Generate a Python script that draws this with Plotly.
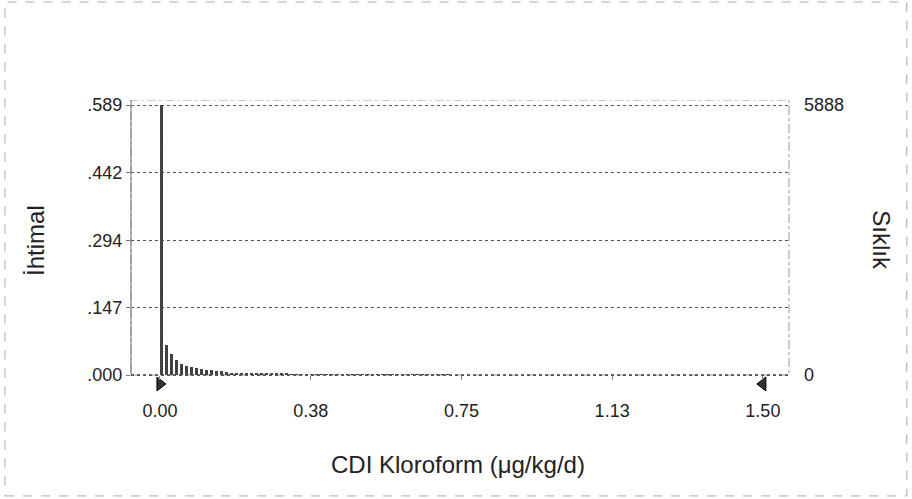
import plotly.graph_objects as go

# Simulation results: 10,000 trials, CDI of chloroform (µg/kg/d)
trials = 10000
bin_width = 0.0125
first_center = 0.003
freq_counts = [5888, 650, 460, 320, 240, 190, 170, 150, 140, 100, 100, 80, 80, 60,
               50, 45, 40, 40, 35, 35, 30, 30, 25, 30, 30, 25, 20, 20, 15, 15, 12,
               12, 10, 10, 10, 8, 8, 8, 6, 6, 6, 5, 5, 5, 4, 4, 4, 3, 3, 3, 2, 2,
               2, 2, 1, 1, 1, 1]

x_tick_vals = [0.0, 0.375, 0.75, 1.125, 1.5]
x_tick_text = ["0.00", "0.38", "0.75", "1.13", "1.50"]
prob_tick_vals = [0.0, 0.147, 0.294, 0.442, 0.589]
prob_tick_text = [".000", ".147", ".294", ".442", ".589"]
freq_tick_vals = [0, 5888]
freq_tick_text = ["0", "5888"]

certainty_range = [0.0, 1.5]

x_centers = [first_center + i * bin_width for i in range(len(freq_counts))]
probs = [c / trials for c in freq_counts]

font_family = "Liberation Sans, Arial, sans-serif"
x_range = [-0.072, 1.565]
prob_top = 0.6
prob_range = [-0.0371, prob_top]          # a strip below zero holds the grabbers
base_frac = -prob_range[0] / (prob_range[1] - prob_range[0])

fig = go.Figure()

fig.add_trace(go.Bar(
    x=x_centers, y=probs, width=bin_width * 0.6,
    marker=dict(color="#2a2a2a", line=dict(width=0),
                pattern=dict(shape="x", fgcolor="#000", bgcolor="#555", size=2, solidity=0.6)),
    showlegend=False, hoverinfo="x+y",
))

# frequency axis carries the same scale as probability
fig.add_trace(go.Scatter(
    x=[x_centers[0]], y=[freq_counts[0]], yaxis="y2", mode="markers",
    marker=dict(size=1, color="rgba(0,0,0,0)"), showlegend=False, hoverinfo="skip",
))

# certainty grabbers below the baseline
fig.add_trace(go.Scatter(
    x=certainty_range, y=[-0.0196, -0.0196], mode="markers",
    marker=dict(symbol=["triangle-right", "triangle-left"], size=12, color="#333",
                line=dict(color="#000", width=1)),
    showlegend=False, hoverinfo="x",
))

fig.update_layout(
    width=912, height=499,
    margin=dict(l=131, r=123, t=100, b=107),
    paper_bgcolor="white", plot_bgcolor="white",
    font=dict(family=font_family, size=18, color="#222"),
    bargap=0,
    xaxis=dict(
        range=x_range, tickvals=x_tick_vals, ticktext=x_tick_text,
        anchor="free", position=base_frac,
        showgrid=False, zeroline=False, showline=False,
        ticks="outside", ticklen=4, tickcolor="#888",
        tickfont=dict(size=18, color="#222"), ticklabelstandoff=15,
    ),
    yaxis=dict(
        range=prob_range, tickvals=prob_tick_vals, ticktext=prob_tick_text,
        showgrid=True, gridcolor="#555", griddash="dot", gridwidth=1,
        zeroline=False, showline=False,
        ticks="outside", ticklen=4, tickcolor="#777",
        tickfont=dict(size=18, color="#222"),
    ),
    yaxis2=dict(
        range=[prob_range[0] * trials, prob_range[1] * trials],
        tickvals=freq_tick_vals, ticktext=freq_tick_text,
        overlaying="y", side="right", showgrid=False, zeroline=False,
        showline=False, ticks="", tickfont=dict(size=18, color="#222"),
        ticklabelstandoff=14,
    ),
    shapes=[
        # plot frame
        dict(type="rect", xref="paper", yref="y", x0=0, x1=1, y0=0, y1=prob_top,
             line=dict(color="#9a9a9a", width=1, dash="dashdot"), layer="below"),
        # left axis line
        dict(type="line", xref="paper", yref="y", x0=0, x1=0, y0=0, y1=prob_top,
             line=dict(color="#777", width=1), layer="above"),
        # baseline
        dict(type="line", xref="paper", yref="y", x0=0, x1=1, y0=0, y1=0,
             line=dict(color="#555", width=1.3, dash="dot"), layer="above"),
        # outer frame
        dict(type="rect", xref="paper", yref="paper",
             x0=-0.1915, x1=1.179, y0=-0.356, y1=1.3356,
             line=dict(color="#aaa", width=1, dash="dash")),
    ],
    annotations=[
        dict(text="İhtimal", xref="paper", yref="paper", x=-0.146, y=0.5205,
             textangle=-90, showarrow=False, font=dict(size=24, color="#222"),
             xanchor="center", yanchor="middle"),
        dict(text="Sıklık", xref="paper", yref="paper", x=1.141, y=0.5205,
             textangle=90, showarrow=False, font=dict(size=24, color="#222"),
             xanchor="center", yanchor="middle"),
        dict(text="CDI Kloroform (μg/kg/d)", xref="paper", yref="paper",
             x=0.497, y=-0.2466, showarrow=False, font=dict(size=24, color="#222"),
             xanchor="center", yanchor="middle"),
    ],
)

fig.write_html("out.html")
